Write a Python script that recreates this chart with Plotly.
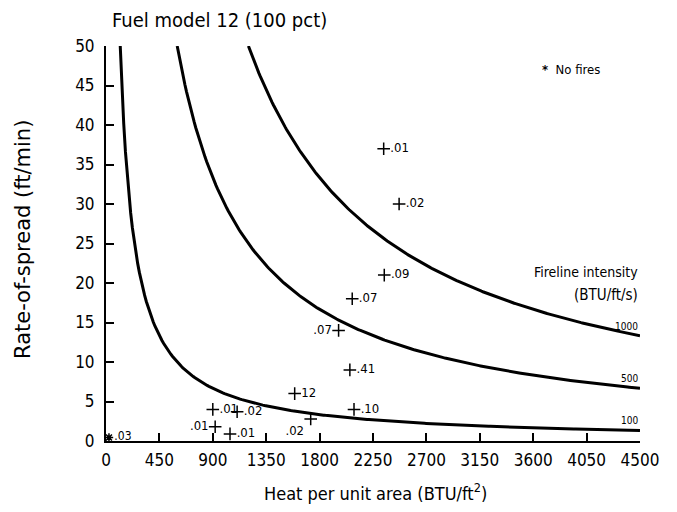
import numpy as np
import plotly.graph_objects as go

# Observed fires: heat per unit area (BTU/ft2), rate of spread (ft/min), labels
fire_hpa = [2340, 2470, 2345, 2075, 1960, 2055, 1590, 2090, 900, 1105, 920, 1045, 1725]
fire_ros = [37, 30, 21, 18, 14, 9, 6, 4, 4, 3.7, 1.8, 0.9, 2.8]
fire_labels = [".01", ".02", ".09", ".07", ".07", ".41", "12", ".10", ".01", ".02", ".01", ".01", ".02"]
fire_textpos = ["middle right", "middle right", "middle right", "middle right", "middle left",
                "middle right", "middle right", "middle right", "middle right", "middle right",
                "middle left", "middle right", "bottom left"]

# No-fire observations
nofire_hpa = [25]
nofire_ros = [0.45]
nofire_labels = [".03"]

# Fireline intensity levels (BTU/ft/s); curves follow I = HPA * ROS / 60
intensities = [100, 500, 1000]
intensity_labels = ["100", "500", "1000"]

x_ticks = [0, 450, 900, 1350, 1800, 2250, 2700, 3150, 3600, 4050, 4500]
y_ticks = [0, 5, 10, 15, 20, 25, 30, 35, 40, 45, 50]

FONT = "Liberation Sans Narrow, DejaVu Sans Condensed, Arial Narrow, sans-serif"
WIDE = "DejaVu Sans, sans-serif"

# page body has an 8px margin; figure sized to fit the window
W, H = 669, 504
ML, MR, MT, MB = 98, 37, 38, 71
PW, PH = W - ML - MR, H - MT - MB

fig = go.Figure()

for I, lab in zip(intensities, intensity_labels):
    hpa = np.linspace(I * 60 / 50, 4500, 300)
    ros = I * 60 / hpa
    fig.add_trace(go.Scatter(x=hpa, y=ros, mode="lines",
                             line=dict(color="black", width=3), hoverinfo="skip",
                             showlegend=False))
    fig.add_annotation(x=4500, y=I * 60 / 4500, text=lab, showarrow=False,
                       xanchor="right", yanchor="bottom", yshift=2,
                       font=dict(family=FONT, size=10, color="black"))

fig.add_trace(go.Scatter(x=fire_hpa, y=fire_ros, mode="markers+text",
                         text=fire_labels, textposition=fire_textpos,
                         marker=dict(symbol="cross-thin", size=9,
                                     line=dict(color="black", width=1.5)),
                         textfont=dict(family=FONT, size=13, color="black"),
                         showlegend=False, cliponaxis=False))

fig.add_trace(go.Scatter(x=nofire_hpa, y=nofire_ros, mode="markers+text",
                         text=nofire_labels, textposition="middle right",
                         marker=dict(symbol="asterisk", size=7,
                                     line=dict(color="black", width=1.5)),
                         textfont=dict(family=FONT, size=12, color="black"),
                         showlegend=False, cliponaxis=False))

fig.add_annotation(x=3660, y=47, text="<b>*</b>  No fires", showarrow=False,
                   xanchor="left", yanchor="middle",
                   font=dict(family=FONT, size=13, color="black"))
fig.add_annotation(x=4500, y=21.4, text="Fireline intensity", showarrow=False,
                   xanchor="right", yanchor="middle",
                   font=dict(family=FONT, size=14, color="black"))
fig.add_annotation(x=4500, y=18.5, text="(BTU/ft/s)", showarrow=False,
                   xanchor="right", yanchor="middle",
                   font=dict(family=FONT, size=15, color="black"))

# Chart title and axis titles placed explicitly
fig.add_annotation(xref="paper", yref="paper", x=(102 - ML) / PW, y=1 + (MT - 12) / PH,
                   text="Fuel model 12 (100 pct)", showarrow=False,
                   xanchor="left", yanchor="middle",
                   font=dict(family=FONT, size=20, color="black"))
fig.add_annotation(xref="paper", yref="paper", x=(15 - ML) / PW, y=(H - MB - 232) / PH,
                   text="Rate-of-spread (ft/min)", textangle=-90, showarrow=False,
                   xanchor="center", yanchor="middle",
                   font=dict(family=WIDE, size=21, color="black"))
fig.add_annotation(xref="paper", yref="paper", x=(367 - ML) / PW, y=-(484 - (H - MB)) / PH,
                   text="Heat per unit area (BTU/ft<sup>2</sup>)", showarrow=False,
                   xanchor="center", yanchor="middle",
                   font=dict(family=FONT, size=18, color="black"))

fig.update_layout(
    width=W, height=H,
    margin=dict(l=ML, r=MR, t=MT, b=MB, autoexpand=False),
    paper_bgcolor="white", plot_bgcolor="white",
    xaxis=dict(range=[0, 4500], tickvals=x_ticks, ticks="inside", ticklen=8,
               tickwidth=1.5, tickcolor="black", showline=True, linecolor="black",
               linewidth=2, showgrid=False, zeroline=False, automargin=False,
               ticklabelstandoff=3,
               tickfont=dict(family=FONT, size=17, color="black")),
    yaxis=dict(range=[0, 50], tickvals=y_ticks, ticks="inside", ticklen=8,
               tickwidth=1.5, tickcolor="black", showline=True, linecolor="black",
               linewidth=2, showgrid=False, zeroline=False, automargin=False,
               ticklabelstandoff=6,
               tickfont=dict(family=FONT, size=17, color="black")),
)

fig.write_html("out.html")
